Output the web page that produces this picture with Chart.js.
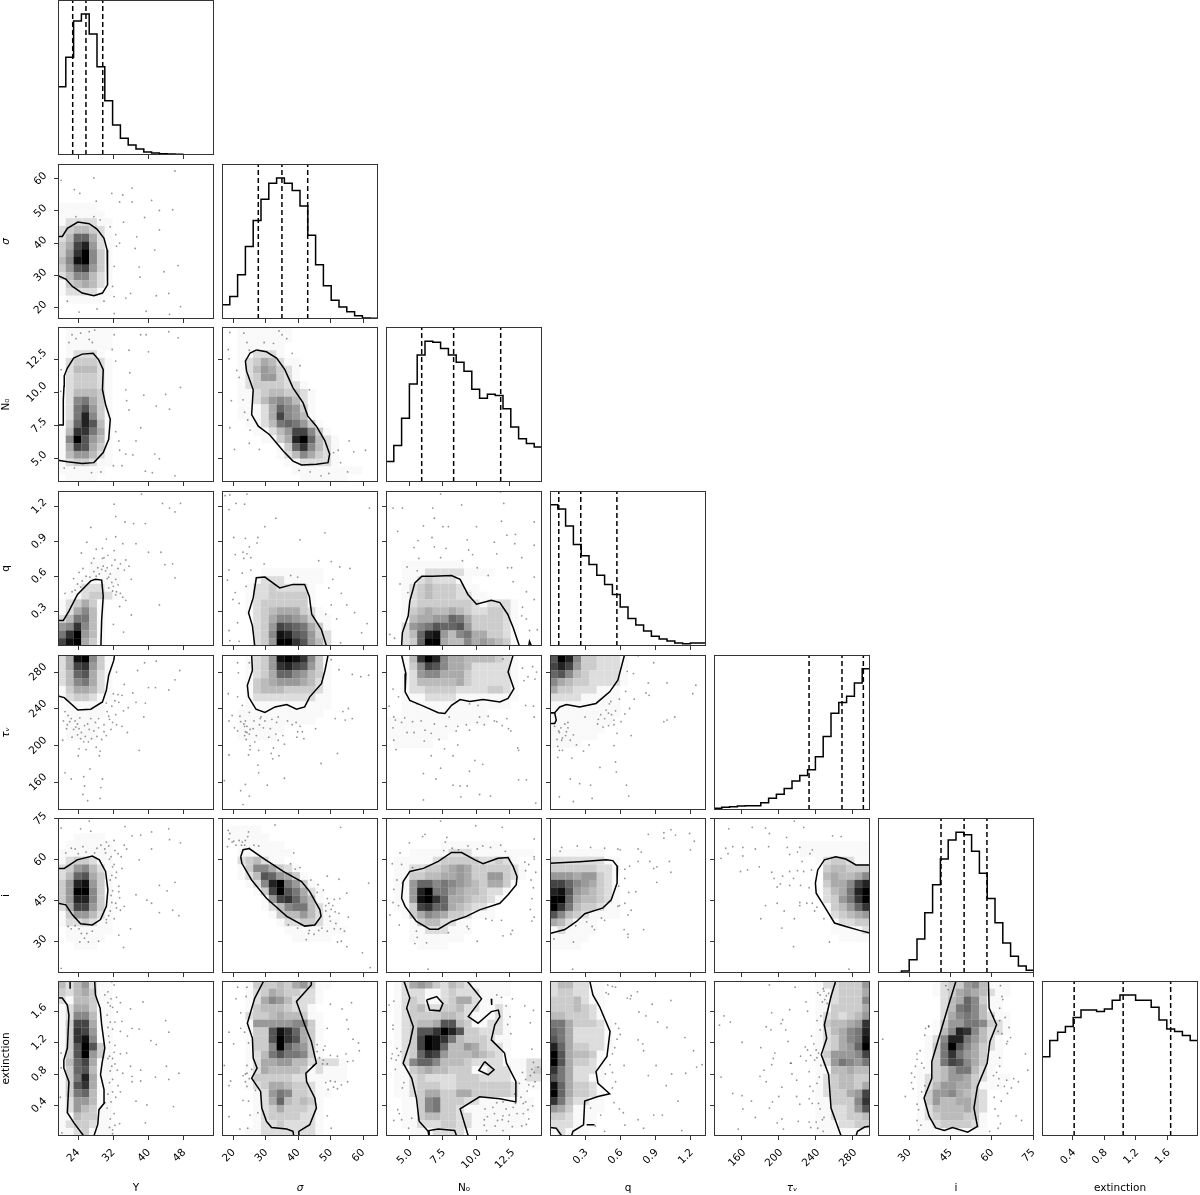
<!DOCTYPE html>
<html><head><meta charset="utf-8">
<style>html,body{margin:0;padding:0;background:#fff;width:1200px;height:1195px;overflow:hidden;position:relative}canvas{position:absolute;display:block}</style>
<script src="https://cdn.jsdelivr.net/npm/chart.js@4"></script>
</head><body>
<script>
// ---------- axes ----------
const axisLabels=['Y','σ','N₀','q','τᵥ','i','extinction'];
const axisItalic=[false,true,false,false,true,false,false];
const axisMin=[19.47,16.45,3.26,0,130,18.6,0.01];
const axisMax=[54.8,64.6,14.93,1.334,298.7,75.3,1.99];
const ticks_Y=[24,32,40,48];
const ticks_sigma=[20,30,40,50,60];
const ticks_N0=[5,7.5,10,12.5];
const ticks_q=[0.3,0.6,0.9,1.2];
const ticks_tau=[160,200,240,280];
const ticks_i=[30,45,60,75];
const ticks_ext=[0.4,0.8,1.2,1.6];
const tickDigits=[0,0,1,1,0,0,1];
// ---------- histograms (20 bins, counts in arbitrary units) ----------
const hist_Y=[205,294,403,424,364,265,163,90,50,30,18,9,6,4,3,2,1,1,1,1];
const hist_sigma=[43,68,133,218,296,360,408,424,408,386,340,252,163,100,56,36,22,10,3,2];
const hist_N0=[62,110,192,295,382,423,420,401,382,360,333,279,252,264,260,220,165,130,116,105];
const hist_q=[425,412,361,305,271,245,213,185,155,117,83,63,45,29,21,15,9,7,9,9];
const hist_tau=[5,8,10,12,13,13,22,35,47,65,87,104,121,160,221,291,323,342,382,425];
const hist_i=[1,1,1,6,40,102,181,265,343,400,423,416,366,300,224,151,90,50,21,8];
const hist_ext=[238,287,312,329,356,379,379,374,382,408,424,424,408,408,387,349,322,314,302,287];
const histTop=466;
// ---------- quantiles ----------
const quant_Y=[22.8,25.8,29.6];
const quant_sigma=[27.65,34.95,42.9];
const quant_N0=[5.93,8.32,11.84];
const quant_q=[0.075,0.263,0.572];
const quant_tau=[232.8,268.4,291.5];
const quant_i=[41.5,49.9,58.2];
const quant_ext=[0.418,1.04,1.643];
// ---------- 2D histograms: rows top to bottom, one hex digit of density per bin ----------
const grid_1_0=["","","","","","11111","111111","1222211","2344321","2499521","35bd621","36cf731","47ef731","36ab631","2477421","1345421","1222211","0111110"];
const grid_2_0=["0111111","0111111","0111111","0122210","0233321","0244421","0233321","0233321","0244431","0278531","028a631","028d731","039da41","14cc851","17fa641","15ba531","1466421","1233211","1111110","0111100"];
const grid_2_1=["001111111","001111111","00111111","00112221","0012354211","0012465321","0012366321","00123333221","001123443321","001124676421","001112597631","0011125b7641","0001124898631","000011246bb731","000001135df9421","0000000139c7421","000000012475321","000000001122221","000000000111111111","00000000001111110"];
const grid_3_0=["","","","","","","","","","000011","00001111","00011111","00122210","01123321","123531","125741","248841","67c741","8cf641","bef531"];
const grid_3_1=["","","","","","","","","","","0000011111111","0000122211111","000122322221","000122333331","000123333331","0001234555321","00002357765311","0000236ba98531","0000237eda9632","0000236ffca642"];
const grid_3_2=["","","","","","","","","","0011111111","00111222221111","00112322211","001234333211","0012343332211","00123333333212221","00134544543223321","00145566985333321","002678a99a6333321","00249de6478553321","00239ff5447565431"];
const grid_4_0=["25ef731","25bc631","249a521","2478521","1355421","1233211","011111","011111","011110","011110","011110"];
const grid_4_1=["0001236efec731","0001236cdba631","00012359976431","00013456665421","00013444333321","00012222222211","00011111111111","0011111111111","001111111111","00111111","0011111"];
const grid_4_2=["0014cfd7554444321","00137ba7554222221","00126775553222221","00124444453222221","00122333322223321","00111222211111111","0011111111111111","0011111111111","1111111111111","111111111","11111111","011111"];
const grid_4_3=["afd7332221","bdb6332221","9a74322221","7543322221","533222111","222211111","111111111","111111111","11111111","1111111","111111","1111"];
const grid_5_0=["","","0011110","0111111","1111111","1233211","2367421","249a531","36de631","36ff731","36dd731","25bb631","1366421","1223211","0111111","0111110","001110"];
const grid_5_1=["","01111","011111","00111111","001111111","00234211","0013775321","00124a96531","000127df8631","000013bfa8521","0000016bc9641","00000124788421","00000013446421","000000012233211","0000000011111111","00000000011111"];
const grid_5_2=["","","","000000011111111","0001111122211111111","01111123333322321","011223345653333321","011334455653366321","01169978765435531","0116df8865443221","0116efc95543321","0113bc99543221","00135765332111","00013442211","00011222111","0001111111","00001111"];
const grid_5_3=["","","","","1111111","222222211","333333221","666566321","bb9765321","dea654321","ff9544321","fc8433211","a74321111","542111","121111","11111","1111"];
const grid_5_4=["","","","00000000000111111111","00000000000111111111","00000000000001233211","00000000000000344333","00000000000000454457","000000000000003557bd","000000000000002458df","000000000000002368cf","0000000000000013469c","00000000000000023456","00000000000000012233","00000000000000011112","00000000000000001111"];
const grid_6_0=["4246211","3245311","2144311","1255311","1277411","13bb511","13cb611","13ce711","13afa31","13af631","149b511","139a411","138d511","13ac511","1389411","1266411","1264311","1143311","1233211","1123111"];
const grid_6_1=["00013334356311","0001235433221","0001257642221","000134443221","0002334544311","0001666667731","000133aec9531","000133afca531","0001337f97631","0001248a88731","0001255664422221","0001254444312111","0001333332211111","0001235543321","00001268733211","0000125943431","0000123533321","0000123333221","0000122322221","0001122222221"];
const grid_6_2=["0125653243211111","0122211232221111","012321123552111","0123422334221121","0123333443211121","0123445aa4311221","0123aacfda332221","0123bfec84333211","0123bfe944653221","01239cb644454321","01279974443222211122","01134544333112221123","01123222233322221122","01123332233333332111","011235533553333321","0011378333221111111","0011378332111111111","001134433221111111","001122233221111111","0001112222111111"];
const grid_6_3=["2442211","2332211","3334211","3334321","4433321","88533321","98522221","a8522221","d9533221","fa54431","fa53321","c852221","a852211","e953321","f953321","c842211","6531111","332111","222111","12111"];
const grid_6_4=["00000000000001223336","00000000000001123335","00000000000001123337","00000000000001133335","00000000000001232346","0000000000000134456c","0000000000000124578d","0000000000000123578e","0000000000000123569f","0000000000000136667b","00000000000001268768","00000000000001144544","00000000000001234433","00000000000001234435","0000000000000123356b","0000000000000113337c","0000000000000112236a","00000000000001122334","00000000000001112233","00000000000001111111"];
const grid_6_5=["00000001233674111","00000001235654211","00000000245973110","0000000024897411","00000000257874211","00000001366887321","0000000147dc74221","000000127dd86421","000000138fa75321","000000138c865311","000000138ba75311","000001134688421","00000123466532111","0000012466553111","00000136675432","00000136445532","00000124444532","00000123444331","00000112333321","00000111111111"];
// ---------- 1-sigma contour lines, read in bin units (x, y from the panel's top-left) ----------
const contour_1_0=[[0,9.35,.55,9.35,1.2,8.3,2.55,7.5,4,7.7,5,8.4,5.9,9.6,6.3,11.1,6.4,13.2,6.3,15.6,5.7,16.65,4.6,17,3.1,16.65,1.85,15.8,1,14.85,0,14.4]];
const contour_2_0=[[0,12.66,.68,12.66,.68,9.4,.77,7.65,.8,6.3,1.2,5.3,2,4,3.1,3.5,4.5,3.4,5.2,4.2,5.8,5.5,5.7,8.1,6.1,10,6.7,11.9,6.5,14.5,5.8,16.2,4.6,17.5,3.1,17.6,1.2,17.4,0,17.2]];
const contour_2_1=[[4.43,2.96,5.7,3.2,7,4,8.06,5.5,9.1,7.85,10.4,9.8,11,11.5,12.1,12.8,13.2,14.7,13.8,16.4,13.6,17.5,12.1,17.7,10.2,17.8,9.1,17.3,7.85,16,6.1,13.9,4.65,12.8,3.8,11.3,4,8.1,3.15,5.7,3,4.4,3.6,3.35,4.43,2.96]];
const contour_3_0=[[0,16.7,.68,16.7,1.4,15.5,2.5,13.35,4.2,11.6,4.8,11.4,5.6,11.5,5.8,13.6,5.6,16.6,5.5,20]];
const contour_3_1=[[4.2,20,3.9,17.4,3.4,15.7,4,13.8,4.4,11.2,5.5,11.1,7.4,12.5,9.1,12.05,10.6,12.05,11.2,13.6,11.5,15.9,12.75,17.9,13.4,20]];
const contour_3_2=[[2,20,2.1,18.3,2.85,16.1,3.05,14.2,3.7,11.85,4.6,11,6,11,8.4,10.9,9.5,11.4,10.5,13.35,11.6,14.6,13.5,14.1,14.6,14.4,15.6,15.9,16.3,17.6,17.1,20],[18.3,20,18.4,19.4,18.65,20]];
const contour_4_0=[[0,5.3,.8,5.5,2.55,7.1,4.2,7,5.7,6.05,6.2,4.55,6.5,2.6,7.15,.7,7.25,0]];
const contour_4_1=[[3.8,0,3.9,2,3.25,3.9,3.4,5.4,4.35,7,5.5,7.4,6.8,6.7,8.3,6.4,9.55,7,10.6,6.7,11.25,5.4,12.75,3.7,13.2,2,13.6,0]];
const contour_4_2=[[2,0,2.55,2.4,2.45,4.75,3.05,5.85,4.8,6.6,6.7,7.45,7.55,7.55,8.4,6.5,9.5,5.75,10.75,6,12.45,5.75,14.6,6.05,15.65,5.6,16.4,4.35,15.65,2.2,16.3,0]];
const contour_4_3=[[9.55,0,8.7,3.25,7.65,4.75,5.9,6.25,3.8,6.7,2.1,6.4,1.25,6.7,.6,7.45,0,7.45],[0,7.45,.6,7.45,.8,8.4,.6,8.85,0,8.85]];
const contour_5_0=[[0,6.5,.8,6.5,2.45,5.4,4.4,4.9,5.3,5.4,6.1,6.9,6.4,9.3,6.2,11.4,5.45,13.1,4.4,13.8,2.9,13.65,1.85,12.5,1,11.2,0,11]];
const contour_5_1=[[2.4,5,2.7,4.1,3.5,3.95,5.3,5.2,7.85,6.9,10.2,8.2,11.25,9.5,12.55,11.85,12.7,12.7,11.9,13.8,10.6,13.95,8.3,12.7,5.7,10.35,3.8,8,2.55,5.85,2.4,5]];
const contour_5_2=[[2,10.35,2.2,8.2,3.05,6.9,4.8,6.5,6.7,5.6,8.4,4.45,9.7,4.45,11.4,5.4,12.45,5.9,14.35,5.2,15.65,5.1,16.3,6.25,16.8,7.55,16.7,8.6,15.65,9.9,14.6,11,12,11.85,10.3,12.7,8.4,13.35,6.7,14.35,5.6,14.35,3.9,13.35,2.45,11.4,2,10.35]];
const contour_5_3=[[0,5.85,3.8,5.65,7.2,5.4,8.05,5.5,8.65,6.25,8.6,8.4,7.85,10.55,6.8,11.6,4.45,12.35,3.4,13.35,1.9,14.4,0,14.9]];
const contour_5_4=[[20,6.05,18.2,6.05,16.9,5.3,15.6,5,14.15,5.4,13.3,6.7,13,8.4,13.1,9.7,14.15,11.4,15.45,13.55,16.9,14,18.65,14.5,20,14.85]];
const contour_6_0=[[0,2.15,.55,2.2,1.2,3.1,1.4,4.4,1.2,8.65,.75,10.2,.75,11.25,1.4,13,1.2,17,2.05,18.3,3.3,20],[4.6,20,5.1,18.5,5.25,16.6,5.95,15.75,5.9,14,5.45,12.1,5.65,10.6,6,8.65,5.6,5.65,5.4,3.5,4.8,1.8,4.7,0],[1.55,0,1.55,1]];
const contour_6_1=[[5.35,0,4.2,2.2,3.25,5.45,3.9,7.4,4,9.95,4.5,11.25,3.8,12.55,4.95,14.25,5.1,16.4,5.7,18.1,6.35,18.9,8.3,19.1,9.1,19.4,9.2,20],[9.75,20,9.85,19.4,11.25,18.55,12.1,16.4,11.9,15.1,10.85,13,10.75,11.9,12.1,10.6,11.45,7.8,10.6,5.65,9.55,2.65,11.45,.5,11.45,0]];
const contour_6_2=[[2.3,0,3.05,2.2,2.65,3.5,3.5,5.9,3.05,8,2.2,10.6,3.3,12.55,3.9,15.1,4.25,18.1,5.4,19.4,5.5,20],[5.5,20,5.5,19.3,6.7,19.1,8.8,19.3,9.05,20],[10.55,20,9.5,16.5,12,14.95,14.6,15.2,16.65,15.6,16.65,12.95,15.45,10.6,15.2,9.3,13.5,7.6,13.95,5.65,14.6,4.6,14.4,3.75,13.5,3.95,11.8,5.45,10.55,4.6,12.25,2.3,10.4,0],[5.2,2.45,6.5,2,7.3,2.9,6.9,3.85,5.6,3.75,5.2,2.45],[12.65,10.4,13.85,11.45,13.1,12.1,11.9,11.55,12.65,10.4],[13.5,2.3,13.55,3.1]];
const contour_6_3=[[5.1,0,5.5,1.8,6.35,3.3,7.7,6.5,7.3,9.75,5.9,11.7,6.15,13.2,7.65,14.55,6.15,14.9,4.45,15.5,4.3,18.55,2.95,19.4,2.75,20],[0,18.9,.8,19,1.45,19.9,1.45,20],[4.7,18.55,5.7,18.55]];
const contour_6_4=[[15.6,0,15,2,14.15,5.65,14.45,7.4,13.75,9.5,14.7,12.1,15,16.4,16.3,20],[18.2,20,18.4,19.4,19.3,18.85,20,18.75]];
const contour_6_5=[[10,0,9.05,3.1,7.85,7.15,6.9,10.4,6.9,12.55,5.9,15.1,6.55,17.45,7.4,18.95,8.5,19.3,9.55,18.9,11.5,19.5,12.75,18.75,12.3,16.4,12.75,13.6,14,10.6,14.35,7.8,15.2,5.65,14.25,3.5,14.15,0]];
// ---------- outlying samples, read in bin units ----------
const dots_1_0=[15,.9,4.6,1.8,.4,2.1,2.1,3.3,2.8,3.8,4.9,4.8,7.9,4.9,9.5,4.9,12,4.7,9.5,3.1,8.3,4,6.9,3.8,14.7,5.9,13,6,11.1,6.9,13,8.5,10.1,9.4,9.9,10.9,12.4,11.1,7.9,10.2,7.4,9.1,8.4,7.5,15.4,13.1,13.6,13.9,10.4,13.3,10.5,14.6,7.2,13.2,7,15.8,9.3,16.7,8.7,17.3,12.6,17,14.2,16.7,11.3,19,14.3,19.4,15.7,18.4,2.7,19.1,7.2,19.3,1.2,17.7,5.9,17.7,5,18.7,7.2,17.1,2.3,6.8,4.6,6.8,5.4,7.2,6.7,8.1,7.5,10.6];
const dots_2_0=[1.8,1,2.9,.8,4,.6,4.7,.4,4,1.6,4.4,2,1.4,2,2.3,1.5,7.2,1,10.6,1,11.3,1,14.2,.6,15.4,1.4,11.6,3.2,9.1,3,7.4,4.4,6.95,2.9,9.2,5.9,15.7,7.8,13.8,8.7,11,8.8,8.7,8.1,8.8,9.5,12.6,10.2,14.3,10.6,9.1,10.7,10.6,13,10,14.7,7.4,13.5,7.8,14.7,7.9,15.9,8.7,16.4,9.6,16.5,7.1,17.9,8.2,17.9,5.5,18.7,4.3,18.8,2.1,18.2,.8,18.2,12.4,16.4,13,17,15,19.2,11.2,18.6,12.1,18.8,.4,5.5,.35,8.3];
const dots_2_1=[1,.7,2.8,.8,7.3,.5,7.7,1,8.3,1.5,3.2,2,5.4,2,6.6,2.1,3.5,3,.8,2.9,.9,4.1,9,3.4,10,5,11.2,8.1,1.9,5.6,2.2,6.5,1.2,9.5,2.7,9.4,2.9,11,3.3,12,3.6,13.3,1,13,1.6,15.8,3.5,15,4.8,15.8,16.3,14.7,15.2,17.5,16.1,18.7,16.9,16.1,18.4,15.9,14.9,15.9,13.7,18.9,9.9,18.5,11.3,18.7,12.7,19.2,14.3,16.2];
const dots_3_0=[10.7,.4,7.2,1.7,13.4,1.6,14.3,2.2,15,2.7,15.7,1.6,7.4,3.3,8.6,4,9.7,4.2,11.2,4.2,4.2,4.7,3.7,6.6,6.2,6.2,7.4,5.9,8.3,6.8,10,6.8,11.6,7.9,13.2,7.9,5.7,7.4,3,8,4.6,8.7,5.9,8.6,7.3,8.9,8.7,8.9,5.8,9.7,6.1,10.3,6.9,9.6,8,9.4,13.7,9.5,14.7,9.4,3.2,10,2.7,10.5,4.6,10.4,5.3,10.7,6.5,11.1,7.4,11.4,9.4,11.4,15,11.2,2,11.3,1.8,13,.9,13.2,7,12.9,7.4,13.4,8.3,13.7,8.7,14.1,7.9,14.9,9.4,16,13,14.7,7.1,17.2,8.4,18.2,4.3,9.3,5.1,9.9,5.6,10.1,6.3,9.9,6.7,10.7,6.9,11.8,6.3,11.3,7.1,12.3,7.7,12.1,6.5,12.5,7.7,10,3.6,11,3.1,11.6,2.5,12,2.9,12.4,2.2,12.8,4.1,11.1,4.9,11,5.7,8.7,8.5,10.2,9.1,9.7,7.5,13,8,13.2,6.4,8.3,4.9,7.5,7.2,7.7];
const dots_3_1=[.4,.6,1,.5,3.2,.4,2.9,1.7,1.8,1.6,.9,2.4,6.9,3.5,5.5,4.6,1.5,6,3,6.1,4.6,6,10,6.3,13.2,5.4,18.9,2.2,3.5,7.2,4.5,6.7,3.2,8.1,2.8,8.7,3.7,8.6,1.7,8.2,2.7,7.9,.9,10.2,2.6,10.6,3.7,10.2,5.4,9.4,8.8,10.9,9.7,11.1,12.4,9,14,9.1,15.1,9.8,16.4,10,.7,11.5,3.1,12.3,1.7,13.1,1.4,14,2.2,14.5,13.7,12.5,14.2,11.4,15.3,13.2,14,14.7,16,14.7,17,15.7,13.3,15.9,14.7,16.5,18.6,17.1,17.9,18.3,.9,18,2,17,2.2,19.4,1,19.3,15.2,19.6];
const dots_3_2=[7,.4,14.7,.1,15.1,1.6,9.7,1.8,6,2.2,.9,2.2,2.1,2.2,6.2,3.5,4.8,4.5,7.3,4.6,8,4.6,11.6,4.6,19,4,14.8,3.9,1.5,5.2,10.4,6.3,15.5,5.7,16.6,5.6,4.1,6.4,5.9,6,13.9,6.6,16.5,6.8,19,7,3.6,7.3,6.2,7.2,7.7,7.4,10.6,7.6,11.1,8.2,14.2,8.1,17.4,8.6,4.2,8.7,7,8.6,9.8,9,15.6,9.9,16.1,9.9,2.7,9.8,4,10.3,11.7,9.9,13.1,10.9,19,11.1,1.8,12,2.8,13.1,16.3,11.7,18,13,19,14,17.5,15,18,16.5,18.4,18,19.4,17.9,.5,18.5,1.1,19,17.4,16.1];
const dots_4_0=[11.1,1,12.6,.8,10.2,2,7.5,2.2,15.6,2,15,3.2,12.5,4.2,14.2,4.5,8.5,3.8,9.6,4.9,7.7,5.1,11.6,4.2,7.3,5.9,6.2,6.2,10,6.1,11.2,6.2,8.4,7.2,6.3,7.3,7.4,7.7,11,8,.9,7.3,1.3,7.8,.7,8.5,1.5,8.6,2.2,8.5,2.8,8.1,2.5,8.9,3.8,8.9,5.2,8.2,5.9,9,7,8.7,8.2,9.2,1.1,9.5,2,9.6,3,10,4,9.6,4.6,9.8,5.9,9.9,6.2,10.4,8.9,10,.6,11,2.5,10.3,3.5,10.5,4.3,10.8,5.6,10.9,2.7,12.1,3.6,12.2,4.9,11.9,5.4,12.4,2.6,13,5.3,13,10.4,12.3,.9,15.2,1.7,16,3.3,15.7,4.1,14.7,3.4,16.9,5.7,16,3.2,18,3.8,18.8,5.5,17.1,5.4,18.5,1.7,8.2,2.3,9.3,2.7,9.5,3.4,9.1,4.2,8.2,4.8,8.7,6.6,8.3,6.8,9.6,7.5,9,5.2,9.4,1.8,10.6,2.9,10.8,3.9,11.2,5,10.5,6.5,7.9,6.9,6.6,7.8,6.1,8.2,5.2,7.1,5,9,6.8,1.2,9,3.3,11.2];
const dots_4_1=[2,1,3.5,1,2.1,2.3,14,.6,15,1.9,16.7,2.5,17.8,2.8,18.8,2.6,.8,5,2,5.4,2.6,6.5,1.3,7.8,3.5,7.4,.9,8.5,2.4,8.6,3,8.5,4.9,8.2,5.5,8.5,7.2,8,14.5,8.2,15.8,8.4,16.7,8.2,16.2,6.9,1.6,9.4,4.8,9,5.3,9.4,6.2,9.5,9.5,8.7,10,9.2,3,9.9,3.2,10,4.4,10.4,7.8,10.4,9.6,10.6,10.5,10.8,12,9.5,7.2,11,6.6,12,8,11.5,3.6,11.7,.9,12.9,3.6,12.2,4.7,12.3,6.3,12.7,7.3,13,6.5,13.4,14.8,12.7,12.7,14,4.6,14.2,4.7,15.2,.3,16.2,8,15.9,3,16.7,2.4,17.5,3.5,18.2,5.8,16.8,2.7,19.3,2.3,7.9,2.8,8.9,3.2,9.2,3.6,9.6,2.9,9.2,3.5,10.2,2.9,10.4,3.1,10.9,4,9.5,5,8,6.4,8.3,7,8.7,8.4,8.5,9,9,9.7,9.9,10.3,9.9,6,10.6,6.9,10.2,2,9.8,4.1,8.5,3.4,12.9,4.2,11.2,15.5,7.3];
const dots_4_2=[15,.5,17.5,1.7,18.8,1.5,19.3,2.2,18.2,2.8,17.7,3.3,19.1,3.1,.9,4.4,1.6,5.4,.4,6.6,4,6.3,10.7,6.3,11.8,6.5,17.9,6.5,18.9,6.6,1.2,8.4,2.4,8.1,.9,9.4,8.1,8,13.1,7.9,15.5,8.2,19,8,4.5,8.5,9.2,9.2,10.3,9,11.7,8.7,12.6,9,13.9,8.5,15.7,9.5,2.7,10,5.8,10.1,6.8,10.9,9,9.8,16,9.8,1,11,4.9,11.1,1.3,12.2,7.5,12.1,9.2,11.6,16.9,12,17,12.3,5.8,13,8.6,13,11.4,13.6,12.4,14.1,7,14.6,4.8,15.3,10.7,15,6.4,16,8.6,16.8,9.5,16.9,10.4,16.9,12,18,13.4,18.2,17,16.1,18,16.1,19.2,19.1,9.6,18.3,4.8,18.7,2,8.7,1,8,3.4,8.6,7.7,9.2,6.2,8.9,12,8,14.2,8.6,14.9,9.1,5,9.7,3.6,10,10.7,9.7];
const dots_4_3=[11.3,.1,13.3,1,9.9,2.1,10.7,2.4,12.6,3.6,15,3.6,18.7,3.9,18.3,5,12.3,4.9,10.8,5.7,12.7,5.2,9.7,4.7,7.8,6,7.6,6.3,8.9,5.7,10.2,6.9,15,8.4,14.6,8.6,16,8,7.5,7.5,6.5,7.7,7,8.2,8.2,8.4,9.6,7.6,2.3,8.7,1.4,9.4,.6,9.2,4.5,8,6.1,8.9,8.2,9,1.2,10,2,10.4,3,10.3,1.5,11,8.6,10.1,10.4,10.4,1,11.8,3.4,11.6,5,11.6,8.2,11.7,1.6,12.3,4.3,12.4,1,13.2,2.8,13.3,8.4,13.8,6.4,14.5,8.5,15.1,2.6,16,3.8,16.6,9.8,16.8,5.2,16.8,1.2,18.3,3,18.9,5.4,18.5,10.1,18.2,7.2,7.1,7.9,7.7,8.4,7.2,6.2,8.3,6.8,9.3,7.5,9.1,1.9,8.9,2.3,9.4,1.1,9.8,2.1,9.9,1.6,10.7,2.6,11,.9,10.9,1.2,12.3,9.1,8.6];
const dots_5_0=[.4,1.3,2.9,1.4,4,.4,4.2,1.7,8.6,1.1,12,1.8,9.5,2.3,10.6,2.2,14.2,1.4,15.7,3.2,14.3,2.8,1.7,3.9,3.2,3.7,5,3.9,6,4,7.2,2.9,7.3,4.2,8.5,3.5,8.8,4,12,4,10.4,5.4,1,4.5,2.6,4.6,4.7,4.5,6.1,4.5,6.8,5,7,6.3,7.4,7.7,7.8,8.8,6.7,8,13,8.7,15,8.3,14,9.4,10,9.9,7.9,10.3,11.4,10.6,12,11,8.5,11.4,6.9,10.9,6.7,12,14.7,11.9,13,12.2,15.5,12.6,7.2,13,6.2,13.1,9.3,14.3,1.7,14.3,2.7,14.3,3,14.9,3.7,14.9,7.8,15.1,5.2,15.9,2.8,16,3.9,16,8.4,16.7,.4,19.4,5.5,3.5,6.5,3.6,6.2,3.1,7.7,4.6,6.6,5.3,7.2,6,7.5,7,6.9,7.4,7.8,9.5,7,9.4,6.8,10,7.4,11,8,11.9,7.5,11.6,6.5,12.6,6.2,13.5,4.4,14.6,2.2,13.9,1.3,14,3.4,15.5,8.2,6.5,8.1,5,2.2,4,3.6,4.4];
const dots_5_1=[.8,1.6,3.4,1.8,3.3,2.4,.9,2.7,.7,3.7,2.9,3.5,3.5,3.9,4.7,3.6,1.8,3.5,6.8,.9,15.2,1.2,9.2,4.5,10,6.4,12.2,9.6,13.5,7.5,15,7.9,18.8,8.4,16,9.7,14.4,10.5,13.7,11,15.1,10.4,14,11.8,13.3,12,16.2,12.8,15,12.3,13.8,12.7,14.6,13.6,15.2,14.3,15.7,14.6,12.8,14.2,8.5,13.8,9.7,14.2,11.2,14.5,11.8,15,13.5,14.6,10.8,15.7,15.3,15.9,16,16.6,18,17.4,14.8,16,19,19.3,1,2,1.5,3,2.2,2.9,2.6,3.1,3,2.9,2.5,3.5,1.3,3.1,4.1,3.5,8.8,5.9,9.4,6.6,11.4,8,12.3,8.6,13,9.3,13.5,10.4,13.3,11.3,14.2,11.3,14.5,12.1,13.9,13.3,14.4,14.3,12.4,14.5,11.1,14.9];
const dots_5_2=[7,.4,11.5,1,14.9,1.2,5,2.1,7.8,2.5,4.7,2.4,12.4,3.6,3,3.2,7.6,3.1,8.5,3.9,9.3,4.1,10.5,3.6,13.4,3.8,14.7,3.5,15.3,4.3,1.8,4.5,7.4,4.2,11.7,4,19,2.7,19,5,19,5.3,.8,5.9,2,6,3.4,6.4,17.8,5.7,18.3,6,1.4,8,2.1,8.4,17.9,6.8,19.2,7,1,9.2,18.6,8,18.9,9,18.7,10.4,18.5,11.8,.9,10.9,1.6,11.3,18.7,13.3,.5,12.5,1.7,13.8,10.4,14,10.6,14.3,12.8,13,13.6,13.2,14.8,13.2,16.2,14.5,19,12.8,3.9,14.6,4,15.4,5.2,16.1,11.7,15.9,15,15.2,3.7,16.2,5.4,19.5,16,15,8,14.8];
const dots_5_3=[1.5,3.8,1.3,4.3,3.5,3.6,5.2,3.8,7,3.9,8.7,4,9,4.1,11.3,4,11.7,4.4,12.6,2.1,14.6,1.9,15.5,1.5,14.6,2.6,16.1,2.2,17.9,2,18.5,3,18,4.1,15.3,5.6,12.8,5.6,11.3,5.6,10.2,6.2,9.6,6.6,13.7,6.3,13.3,6.5,15.5,7,13.7,8.3,9.6,7.8,8.8,8.8,10.1,9.6,11,9.5,9.6,11,8.9,11.3,8.7,11.4,10.4,11.9,10,12.5,6.6,12.9,7,13.2,4.7,13.4,5.4,14,5.7,14.4,9.5,14.4,10,15.4,10,15,3.3,13.9,12,14.4,.5,15.6,3,16,2.9,19.5];
const dots_5_4=[10.3,.4,11.5,1.2,6.6,1.3,4.9,1.2,1.9,1.4,7.1,2,9.3,2.5,15.2,2.3,16.3,2.4,1.5,3.9,2.4,3.7,3.7,3.8,5.3,4,9.4,3.8,11,3.8,12.6,4.1,7,3.7,.9,5.2,1.8,4.6,3.7,4.9,9.7,4.7,10.7,4.4,12.3,4.6,11.3,5.6,5.8,6.3,3.4,6.9,4.3,6.7,7.4,7,9.7,6.9,10.7,6.8,11.5,6.9,12.5,6.7,8.8,7.5,10.2,7.8,7.7,7.8,8.5,8.5,9.7,8.7,11.1,8.7,12.2,9,8.1,8.9,12.6,11,11,10.9,11.9,11,11,11.3,8.1,11,6.6,11.3,13.2,11.5,9,12,12.9,12,14.1,13,6,13,8.7,14.2,10.2,16.6,14.8,16,17.3,19.5,10.3,13];
const dots_6_0=[6.9,.1,7.2,.5,6,1.8,6.8,2.3,6.4,2.8,7,3.4,8,2.8,10.9,2.7,9.3,3.6,7.6,4,7.3,5.3,6.4,6,13.8,5.1,14.2,6.6,9.5,6.1,8,6.5,10.4,6.2,11.9,7.7,12.6,8.2,6.6,7.9,7.3,8.3,8,9.4,8.8,9.3,6.4,10,9.3,11,7.3,10.7,13.9,11,10.6,11.5,12.5,12.4,15.5,11.9,8.3,11.9,7,12.7,9.5,12.3,9.5,13,10.6,12.9,14.2,12.7,7,14.3,8,14.3,7.4,15,10,15.5,11.4,16,14.8,16.2,7.2,17.1,7.9,18.4,6.7,17.8,11.2,18.3,7,19.2,7,19.7,.5,19.6,.3,15,.4,9.3,.4,11.2,6.4,1.4,6.7,3.2,7.5,2.1,6.3,4.4,6.7,5.3,7,6.2,6.5,7.1,7.2,9.2,6.6,9.7,7,10,6.7,11.6,6.9,11,7.6,11.5,6.6,13.1,7.7,13.5,6.4,14.6,6.8,15.6,6.3,16.4,6.6,18.9,7.3,18.6,8.2,5.2,8.9,7.1];
const dots_6_1=[2,.8,3.2,.8,3.1,2,1.8,2.3,2.4,4.1,13.9,3,15.4,3.6,16.6,2.8,16,5,16.2,6.2,.9,6.6,2.4,6.1,2.9,6.6,13.5,6.1,16.8,7.5,1.5,8.1,3.4,8,12.2,8.2,13.2,8.4,17.5,8,.3,10.9,3.2,10.9,11.7,10.9,12.9,10.7,13,10.2,15.9,9.4,16.1,10.4,16.8,10.3,17.6,9,1.1,12.9,.9,13.5,3,13,3.2,13.6,3.5,12.6,14.5,13,15.3,13.4,13.6,14,14.3,13.7,16.1,13,2.7,15.4,3.4,15.5,4.3,14.1,4.6,17,.9,17.5,3.6,17.3,2.3,19.1,3.3,19,13.5,17.4,14,19,13,8.9,13.9,9.6,12.5,9.9,12.2,9.1,14.8,9.7,13.5,10.7,3.2,11.9,2.7,12.2,3.8,11.4,3,12,13.3,13.1,13.9,12.9,14.8,13.9];
const dots_6_2=[1,2.6,.4,3.1,17.8,3.2,14.2,1.8,14.8,2.1,16.2,2.3,15.4,3.2,18.9,3.8,.9,5.7,.9,6.2,15.6,5.6,15.9,4.6,16,6.8,18.5,5.4,1.4,8.7,1.6,9.6,.7,10,18.7,8.8,18.9,10.5,19.5,11.1,18.7,11.4,1.2,11.4,2.3,13.1,17.1,13.2,17.9,12.7,18.3,13.4,18.1,14.2,19,11.8,2.1,13.8,16.5,14.6,14.2,15.7,15,15.6,16.6,15.8,17.6,15.8,12.7,16.5,13.7,16.3,15.4,16.5,18.8,16.1,1.5,16.6,2,17.9,3.3,17.7,13,17.5,15,17.4,15.8,17.3,18.3,17.8,12.6,18.6,14,18.7,16.2,18.8,17.4,18.7,18,18.5,12.9,19.3,15,19.3,2.9,19,1,18,14.9,17.9,15.7,18.1,16.8,17.1,17.6,17.1,18.2,16.6,17.3,15,17.9,15.6,18.9,13.6,18.5,12.2,19.1,13,17.5,11.8,13.9,17.1,14.3,18,12.6,17.9,16.3,16.3,1.7,17.1,.8,9.4,1.9,9.1,1.3,10.2];
const dots_6_3=[7.4,.5,8,.7,8.4,.8,7.2,1.5,7.5,1.7,10.4,1.9,11.2,1.4,10.3,2.3,9.9,2.2,15.5,2.5,13.1,3,11.4,4,12.3,4.5,8.4,5.5,8.8,6.1,13.8,5.3,15,6,17.3,7.3,9,6.9,8.6,7.5,11.3,7.6,11.9,8.1,12,9,8.3,8.6,8,9.4,18.4,9,19.5,10.8,18.8,11.1,7.7,10.8,9.5,10.9,13.6,10.9,8,11.8,7.1,12,12.6,12.2,15.6,12,8.4,13,17.4,11.9,8,13.8,14.9,13.5,16.4,15.5,8.2,15.7,8.9,16.5,5.2,16.4,6.5,17.3,9.4,17,13.3,17.3,14.4,17.3,11.3,17.9,5.8,18.7,7,19.4,9.6,18.6,12,19,16.9,19.3];
const dots_6_4=[7.1,.5,10.4,.8,13.3,1.5,14.4,1.9,15,2,14,1,15.5,.4,14.2,2.4,11.8,2.7,12,3.9,9.7,3.7,7.4,4.1,1.3,4.5,2.1,5.3,8.6,5.5,8.8,5,6.7,5.9,.7,5.7,9.2,6.3,13.6,6.3,7.3,6.3,12.5,7.1,3.6,7.9,9.5,7.8,11.7,8.5,6,8.6,7.8,9.3,12,8.9,11.1,9.7,13.4,9.3,9.8,10.6,7.6,10,7.4,10.8,9.9,10.6,6.4,11.5,.9,12.4,5.9,12.3,10,12,10.6,12.8,13.5,12.4,6.7,13,8.7,13.7,12.3,13.6,2.4,14.5,3.6,14.8,8.3,14.9,10.6,14.9,4.8,15.5,12.2,15.2,7.1,16.4,7.5,15.6,11,15.9,12.6,15.8,3.7,16.5,5.3,17.6,8.7,17.8,13.9,17.9,8.1,18.3,10.8,18.1,12.2,18.2,3.1,19.1,8.9,19.1,13.3,19,14,19.4,13.6,1.8,14.1,1.3,13.9,2.7,14.7,1.6,14.5,2.9,13.2,5.1,13.7,4.5,12.8,8.1,13.1,8.9,12.4,9.6,13.2,9.9,12.9,10.2,13.7,10.9,11.8,10.3,12.2,11.7,13.2,13.2,12.7,14.2,13.4,15.8,13.6,16.5,14.1,17.6,13.1,18.2,12.4,18.9];
const dots_6_5=[.6,7.5,6.1,6.1,6.5,5.9,8.7,.6,9,1.1,15.7,.6,15.9,2,16,2.4,15.6,3.5,14.8,4.5,16.3,4.7,6.5,5.8,6,7,16.8,6,15.9,6.8,17,7.3,16.5,8.1,5,9.4,5,10.1,15.6,9.9,18.9,9.4,4.8,11,15.2,11.8,19.2,11.5,4.3,11.9,4.7,12.4,14.8,12.2,16.5,12.8,17.4,12.6,18,13,4.3,13.1,15.4,13.5,17.1,13.8,16.6,14.5,3.5,14.9,5.2,16.6,5.6,14.3,15.8,15.5,15.4,17.4,17.7,17.4,5,18,18.4,18,5.5,18.6,15.4,19,14.3,19.4,5.2,19.2,5.4,9,5.6,10.6,5.9,11.2,6,13.5,5,15.9,4.5,13.9,15.6,5.1,15.4,6.5,16.6,7.8,15.6,11,15.5,12.6,16.2,13.6,14.9,15,15,16.5,15.7,18.4];

const hists=[hist_Y,hist_sigma,hist_N0,hist_q,hist_tau,hist_i,hist_ext];
const quants=[quant_Y,quant_sigma,quant_N0,quant_q,quant_tau,quant_i,quant_ext];
const tickVals=[ticks_Y,ticks_sigma,ticks_N0,ticks_q,ticks_tau,ticks_i,ticks_ext];
const panels2d={"1_0":[grid_1_0,contour_1_0,dots_1_0],"2_0":[grid_2_0,contour_2_0,dots_2_0],"2_1":[grid_2_1,contour_2_1,dots_2_1],"3_0":[grid_3_0,contour_3_0,dots_3_0],"3_1":[grid_3_1,contour_3_1,dots_3_1],"3_2":[grid_3_2,contour_3_2,dots_3_2],"4_0":[grid_4_0,contour_4_0,dots_4_0],"4_1":[grid_4_1,contour_4_1,dots_4_1],"4_2":[grid_4_2,contour_4_2,dots_4_2],"4_3":[grid_4_3,contour_4_3,dots_4_3],"5_0":[grid_5_0,contour_5_0,dots_5_0],"5_1":[grid_5_1,contour_5_1,dots_5_1],"5_2":[grid_5_2,contour_5_2,dots_5_2],"5_3":[grid_5_3,contour_5_3,dots_5_3],"5_4":[grid_5_4,contour_5_4,dots_5_4],"6_0":[grid_6_0,contour_6_0,dots_6_0],"6_1":[grid_6_1,contour_6_1,dots_6_1],"6_2":[grid_6_2,contour_6_2,dots_6_2],"6_3":[grid_6_3,contour_6_3,dots_6_3],"6_4":[grid_6_4,contour_6_4,dots_6_4],"6_5":[grid_6_5,contour_6_5,dots_6_5]};

// ---------- layout ----------
const colLeft=[58,222,386,550,714,878,1042], rowTop=[0,164,327,491,655,818,981];
const W=156,H=155,PAD=2,TOP_LABEL=14,FONT='"DejaVu Sans"',FS=10.5;

const frame={id:'frame',
  beforeDraw(chart){
    for(const id of ['x','y']){
      const s=chart.scales[id];
      if(!s||!s.options.display||!s.options.ticks.display) continue;
      const ctx=chart.ctx;
      for(const it of s.getLabelItems(chart.chartArea)){
        ctx.font=it.font.string;
        const half=(ctx.measureText(it.label).width+8)*Math.SQRT1_2/2;
        it.textOffset=0;
        it.options.textAlign='center';
        it.options.textBaseline='middle';
        if(id==='x') it.options.translation[1]=chart.chartArea.bottom+12+half;
        else it.options.translation[0]=chart.chartArea.left-10-half;
      }
    }
  },
  afterDraw(chart){
    const a=chart.chartArea,c=chart.ctx;
    c.save();c.strokeStyle='#333';c.lineWidth=1;
    c.strokeRect(a.left+.5,a.top+.5,a.right-a.left-1,a.bottom-a.top-1);
    c.restore();
  }};

function gray(v){const g=v===1?249:Math.round(255*(1-v/15));return `rgb(${g},${g},${g})`;}

function axis(i,showLabels,size,horizontal,withTitle){
  return {type:'linear',min:axisMin[i],max:axisMax[i],
    grid:{display:true,drawOnChartArea:false,drawTicks:true,tickLength:4,tickColor:'#333',tickWidth:1},
    border:{display:false},
    title:{display:withTitle,text:axisLabels[i],padding:0,color:'#000',font:{family:FONT,size:FS,style:axisItalic[i]?'italic':'normal'}},
    ticks:{display:showLabels,autoSkip:false,minRotation:45,maxRotation:45,color:'#000',padding:2,font:{family:FONT,size:FS},
      callback:v=>Number(v).toFixed(tickDigits[i])},
    afterBuildTicks(s){s.ticks=tickVals[i].map(v=>({value:v}));},
    afterFit(s){ if(horizontal) s.height=size; else s.width=size;
      s.paddingLeft=s.paddingRight=s.paddingTop=s.paddingBottom=0; }
  };
}

function makeChart(r,c,datasets){
  const isHist=r===c, left=c===0?58:6, bottom=r===6?1195-(rowTop[6]+H):6;
  const topPad=(c===0&&!isHist)?TOP_LABEL:PAD;
  const cv=document.createElement('canvas');
  const w=left+W+PAD,h=topPad+H+bottom;
  cv.width=w;cv.height=h;
  cv.style.left=(colLeft[c]-left)+'px';cv.style.top=(rowTop[r]-topPad)+'px';
  cv.style.width=w+'px';cv.style.height=h+'px';
  cv.setAttribute('aria-label',isHist?'Histogram of '+axisLabels[c]:axisLabels[r]+' against '+axisLabels[c]);
  document.body.appendChild(cv);
  const yAxis=isHist
    ?{type:'linear',display:false,min:0,max:histTop}
    :axis(r,c===0,left,false,c===0);
  new Chart(cv,{type:'scatter',data:{datasets},plugins:[frame],options:{
    responsive:false,animation:false,events:[],devicePixelRatio:1,
    layout:{autoPadding:false,padding:{top:topPad,right:PAD,left:isHist?left:0,bottom:0}},
    plugins:{legend:{display:false},tooltip:{enabled:false},title:{display:false}},
    scales:{x:axis(c,r===6,bottom,true,r===6),y:yAxis}
  }});
}

function lineDs(points,extra){return Object.assign({data:points,showLine:true,pointRadius:0,pointHitRadius:0,borderColor:'#000',borderWidth:1.5,fill:false,tension:0},extra||{});}

// diagonal histograms
for(let i=0;i<7;i++){
  const dx=(axisMax[i]-axisMin[i])/20;
  const pts=hists[i].map((v,k)=>({x:axisMin[i]+k*dx,y:v}));
  pts.push({x:axisMax[i],y:hists[i][19]});
  const ds=[lineDs(pts,{stepped:'before'})];
  for(const q of quants[i]) ds.push(lineDs([{x:q,y:0},{x:q,y:histTop}],{borderDash:[5,3]}));
  makeChart(i,i,ds);
}
// off-diagonal panels
for(const key in panels2d){
  const [r,c]=key.split('_').map(Number);
  const [grid,contours,dots]=panels2d[key];
  const dx=(axisMax[c]-axisMin[c])/20, dy=(axisMax[r]-axisMin[r])/20;
  const px=gx=>axisMin[c]+gx*dx, py=gy=>axisMax[r]-gy*dy;
  const ds=[];
  for(const ct of contours){
    const pts=[];for(let k=0;k<ct.length;k+=2)pts.push({x:px(ct[k]),y:py(ct[k+1])});
    ds.push(lineDs(pts));
  }
  const dp=[];for(let k=0;k<dots.length;k+=2)dp.push({x:px(dots[k]),y:py(dots[k+1])});
  ds.push({data:dp,pointRadius:.9,pointHitRadius:0,pointBorderWidth:0,pointBackgroundColor:'rgba(0,0,0,0.42)',showLine:false});
  const cells=[],cols=[];
  grid.forEach((row,gy)=>{for(let gx=0;gx<row.length&&gx<20;gx++){
    const v=parseInt(row[gx],16);
    if(v>0){cells.push({x:px(gx+.5),y:py(gy+.5)});cols.push(gray(v));}
  }});
  ds.push({data:cells,pointStyle:'rect',pointRadius:5.62,pointHitRadius:0,pointBorderWidth:0,pointBackgroundColor:cols,showLine:false});
  makeChart(r,c,ds);
}
</script>
</body></html>
